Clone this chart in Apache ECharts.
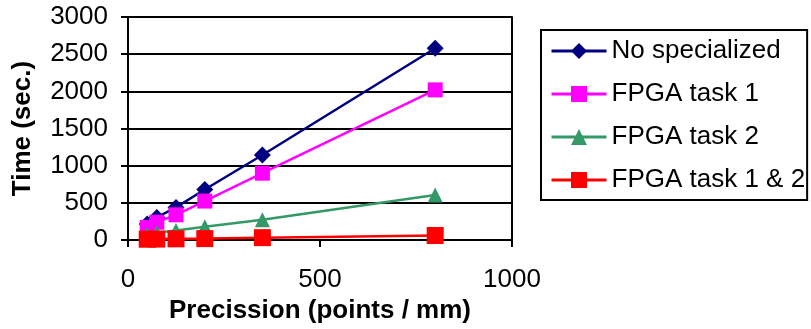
<!DOCTYPE html>
<html>
<head>
<meta charset="utf-8">
<script src="https://cdn.jsdelivr.net/npm/echarts@6/dist/echarts.min.js"></script>
<style>
  html, body { margin: 0; padding: 0; background: #fff; }
  #chart-container { width: 811px; height: 329px; }
</style>
</head>
<body>
<div id="chart-container"></div>
<script>
// precision values (points / mm)
const precision = [50, 75, 125, 200, 350, 800];
// time in seconds per configuration
const noSpecialized = [215, 305, 440, 680, 1145, 2580];
const fpgaTask1 = [170, 240, 340, 525, 900, 2020];
const fpgaTask2 = [80, 100, 130, 180, 275, 605];
const fpgaTask12 = [12, 14, 17, 20, 33, 62];

const seriesNames = ['No specialized', 'FPGA task 1', 'FPGA task 2', 'FPGA task 1 & 2'];

const font = 'Arial, "Liberation Sans", sans-serif';

const pairs = (ys) => precision.map((x, i) => [x, ys[i]]);

const start = () => {
  const chartDom = document.getElementById('chart-container');
  const myChart = echarts.init(chartDom, null, { renderer: 'canvas' });
  const option = {
    animation: false,
    textStyle: { fontFamily: font },
    grid: { left: 128, right: 299, top: 17, bottom: 86 },
    legend: {
      orient: 'vertical',
      left: 541,
      top: 30,
      data: seriesNames,
      itemWidth: 55,
      itemHeight: 20,
      itemGap: 13,
      padding: [6, 2, 5, 9],
      borderColor: '#000',
      borderWidth: 2,
      borderRadius: 0,
      lineStyle: { width: 3 },
      textStyle: { fontFamily: font, fontSize: 26, lineHeight: 30, color: '#000' }
    },
    xAxis: {
      type: 'value',
      min: 0,
      max: 1000,
      interval: 500,
      name: 'Precission (points / mm)',
      nameLocation: 'middle',
      nameGap: 55,
      nameTextStyle: { fontFamily: font, fontSize: 26, fontWeight: 'bold', color: '#000' },
      axisLine: { lineStyle: { color: '#000', width: 2 } },
      axisTick: { show: true, length: 7, lineStyle: { color: '#000', width: 2 } },
      axisLabel: { fontFamily: font, fontSize: 26, color: '#000', margin: 27, formatter: (v) => String(v) },
      splitLine: { show: false }
    },
    yAxis: [
      {
        type: 'value',
        min: 0,
        max: 3000,
        interval: 500,
        name: 'Time (sec.)',
        nameLocation: 'middle',
        nameGap: 92,
        nameTextStyle: { fontFamily: font, fontSize: 26, fontWeight: 'bold', color: '#000' },
        axisLine: { show: true, lineStyle: { color: '#000', width: 2 } },
        axisTick: { show: true, length: 7, lineStyle: { color: '#000', width: 2 } },
        axisLabel: { fontFamily: font, fontSize: 26, color: '#000', margin: 20, formatter: (v) => String(v) },
        splitLine: { show: true, lineStyle: { color: '#000', width: 2 } }
      },
      {
        type: 'value',
        min: 0,
        max: 3000,
        interval: 500,
        position: 'right',
        axisLine: { show: true, lineStyle: { color: '#000', width: 2 } },
        axisTick: { show: false },
        axisLabel: { show: false },
        splitLine: { show: false }
      }
    ],
    series: [
      {
        name: seriesNames[0],
        type: 'line',
        data: pairs(noSpecialized),
        symbol: 'diamond',
        symbolSize: 17,
        color: '#000080',
        lineStyle: { width: 2.5 }
      },
      {
        name: seriesNames[1],
        type: 'line',
        data: pairs(fpgaTask1),
        symbol: 'rect',
        symbolSize: 15,
        color: '#FF00FF',
        lineStyle: { width: 2.5 }
      },
      {
        name: seriesNames[2],
        type: 'line',
        data: pairs(fpgaTask2),
        symbol: 'triangle',
        symbolSize: 15,
        color: '#339966',
        lineStyle: { width: 2.5 }
      },
      {
        name: seriesNames[3],
        type: 'line',
        data: pairs(fpgaTask12),
        symbol: 'rect',
        symbolSize: 17,
        color: '#FF0000',
        lineStyle: { width: 2.5 }
      }
    ]
  };
  myChart.setOption(option);
};

start();
</script>
</body>
</html>
